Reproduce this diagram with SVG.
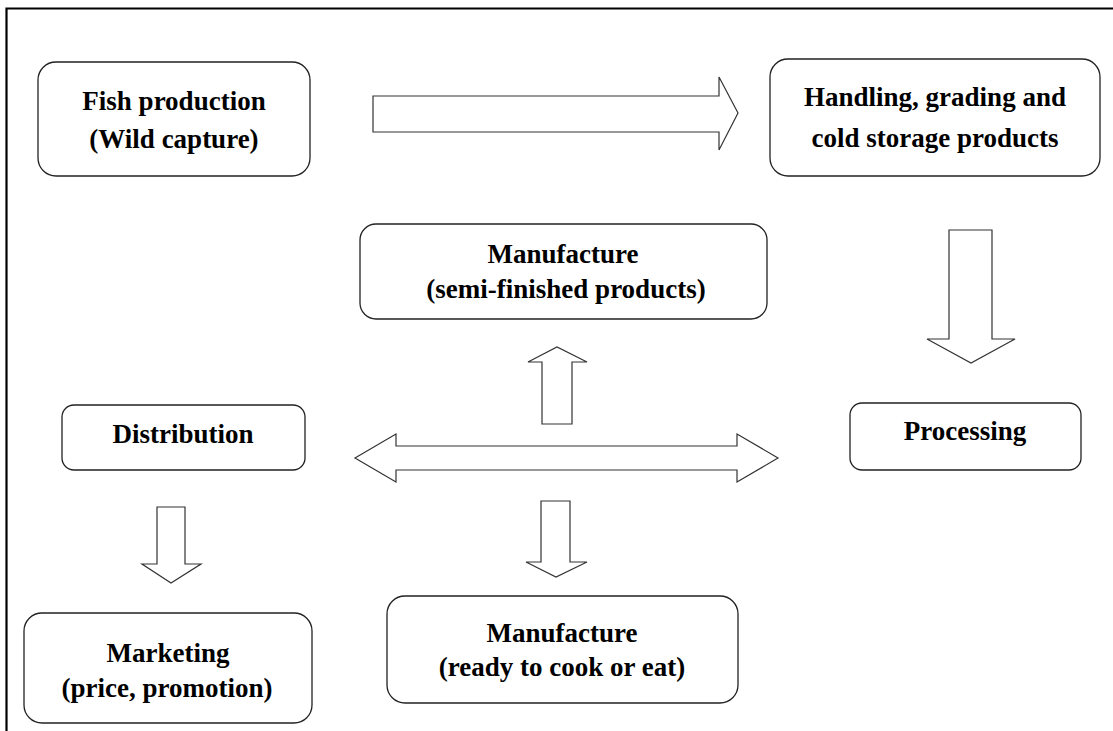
<svg xmlns="http://www.w3.org/2000/svg" width="1113" height="731" viewBox="0 0 1113 731">
<style>
.box{fill:#fff;stroke:#222;stroke-width:1.3}
.arr{fill:#fff;stroke:#333;stroke-width:1.2;stroke-linejoin:miter}
.t{font-family:"Liberation Serif","Times New Roman",serif;font-weight:bold;font-size:27px;fill:#000;text-anchor:middle}
.frame{stroke:#000;stroke-width:2.2;fill:none}
</style>
<rect width="1113" height="731" fill="#fff"/>
<path class="frame" d="M6.5,731 V8.5 H1113"/>
<g id="connectors">
<polygon class="arr" points="373,96 719,96 719,77 738,113 719,150 719,132 373,132"/>
<polygon class="arr" points="949,230 992,230 992,339 1015,339 971,363 927,339 949,339"/>
<polygon class="arr" points="542,424 572,424 572,362 587,362 557,347 528,362 542,362"/>
<polygon class="arr" points="355,458 396,434 396,446 737,446 737,434 778,458 737,482 737,470 396,470 396,482"/>
<polygon class="arr" points="541,501 570,501 570,562 587,562 556,577 526,562 541,562"/>
<polygon class="arr" points="157,507 185,507 185,564 201,564 171,583 142,564 157,564"/>
</g>
<g id="fish">
<rect class="box" x="38" y="62" width="272" height="114" rx="18"/>
<text class="t" x="174" y="110">Fish production</text>
<text class="t" x="174" y="148">(Wild capture)</text>
</g>
<g id="handling">
<rect class="box" x="770" y="59" width="330" height="117" rx="18"/>
<text class="t" x="935" y="106">Handling, grading and</text>
<text class="t" x="935" y="147">cold storage products</text>
</g>
<g id="semi">
<rect class="box" x="360" y="224" width="407" height="95" rx="16"/>
<text class="t" x="563" y="263">Manufacture</text>
<text class="t" x="566" y="298">(semi-finished products)</text>
</g>
<g id="processing">
<rect class="box" x="850" y="403" width="231" height="67" rx="12"/>
<text class="t" x="965" y="440">Processing</text>
</g>
<g id="distribution">
<rect class="box" x="62" y="405" width="243" height="65" rx="12"/>
<text class="t" x="183" y="443">Distribution</text>
</g>
<g id="marketing">
<rect class="box" x="24" y="613" width="288" height="110" rx="18"/>
<text class="t" x="168" y="662">Marketing</text>
<text class="t" x="167" y="697">(price, promotion)</text>
</g>
<g id="ready">
<rect class="box" x="387" y="596" width="351" height="107" rx="18"/>
<text class="t" x="562" y="642">Manufacture</text>
<text class="t" x="562" y="676">(ready to cook or eat)</text>
</g>
</svg>
